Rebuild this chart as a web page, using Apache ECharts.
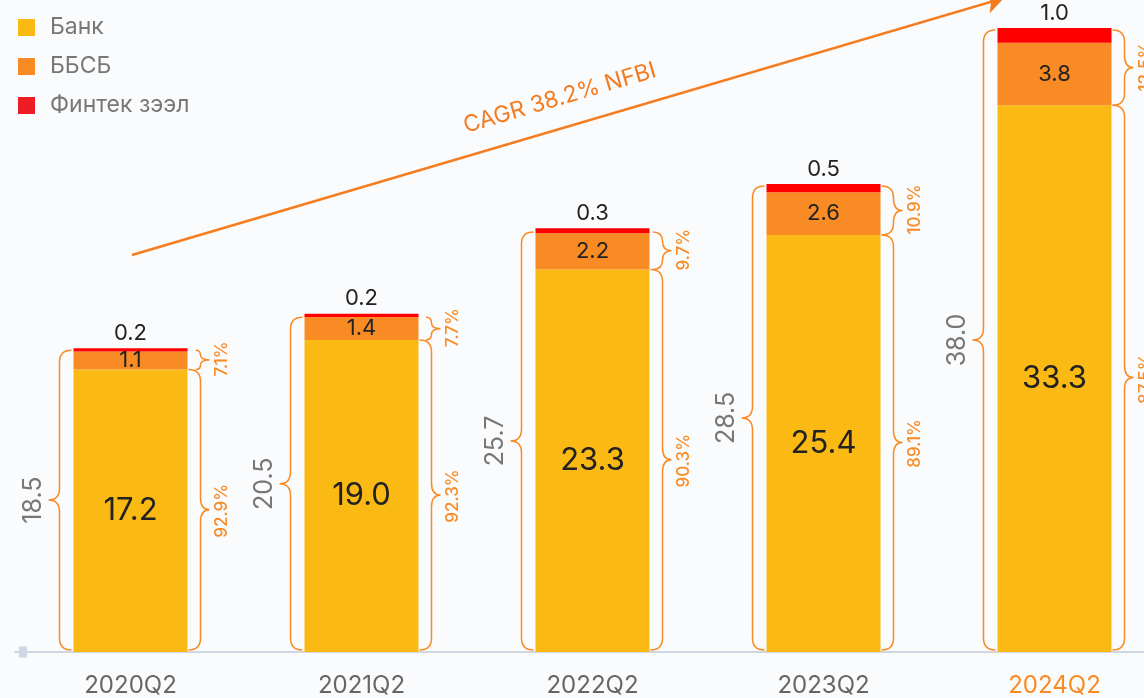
<!DOCTYPE html>
<html>
<head>
<meta charset="utf-8">
<script src="https://cdn.jsdelivr.net/npm/echarts@6/dist/echarts.min.js"></script>
<style>
  html, body { margin: 0; padding: 0; background: #fafbfd; overflow: hidden; }
  /* the picture crops the last column, so the chart runs past the right edge */
  #chart { width: 1170px; height: 698px; }
</style>
</head>
<body>
<div id="chart"></div>
<script>
  // data
  var categories = ['2020Q2', '2021Q2', '2022Q2', '2023Q2', '2024Q2'];
  var bank = [17.2, 19.0, 23.3, 25.4, 33.3];
  var bbsb = [1.1, 1.4, 2.2, 2.6, 3.8];
  var fintech = [0.2, 0.2, 0.3, 0.5, 1.0];
  var totals = [18.5, 20.5, 25.7, 28.5, 38.0];
  var bankShare = ['92.9%', '92.3%', '90.3%', '89.1%', '87.5%'];
  var otherShare = ['7.1%', '7.7%', '9.7%', '10.9%', '12.5%'];

  var FONT = 'Inter, "Open Sans", sans-serif';
  var ORANGE = '#f98b25';
  var chart = echarts.init(document.getElementById('chart'));

  // curly brace along a vertical span, d = -1 tip to the left, +1 tip to the right
  function brace(x0, yt, yb, d, t) {
    var span = yb - yt;
    var r = Math.min(12, span / 4);
    var ym = (yt + yb) / 2;
    var ex = x0 - d * r;
    return 'M' + ex + ' ' + yt +
      ' Q' + x0 + ' ' + yt + ' ' + x0 + ' ' + (yt + r) +
      ' L' + x0 + ' ' + (ym - r) +
      ' Q' + x0 + ' ' + ym + ' ' + (x0 + d * t) + ' ' + ym +
      ' Q' + x0 + ' ' + ym + ' ' + x0 + ' ' + (ym + r) +
      ' L' + x0 + ' ' + (yb - r) +
      ' Q' + x0 + ' ' + yb + ' ' + ex + ' ' + yb;
  }

  function renderBraces(params, api) {
    var i = params.dataIndex;
    var base = api.coord([api.value(0), 0]);
    var pBank = api.coord([api.value(0), api.value(1)]);
    var pTop = api.coord([api.value(0), api.value(2)]);
    var cx = base[0];
    var lx = cx - 71, rx = cx + 70;
    var lineStyle = { stroke: ORANGE, lineWidth: 1.5, fill: 'none' };
    return {
      type: 'group',
      children: [
        { type: 'path', shape: { pathData: brace(lx, pTop[1] + 2, base[1] - 2, -1, 11) }, style: lineStyle },
        { type: 'path', shape: { pathData: brace(rx, pTop[1] + 2, pBank[1], 1, 9) }, style: lineStyle },
        { type: 'path', shape: { pathData: brace(rx, pBank[1], base[1] - 2, 1, 9) }, style: lineStyle },
        {
          type: 'text', x: cx - 97, y: (pTop[1] + base[1]) / 2, rotation: Math.PI / 2,
          style: { text: totals[i].toFixed(1), fill: '#777', font: '25px ' + FONT, align: 'center', verticalAlign: 'middle' }
        },
        {
          type: 'text', x: cx + 91, y: (pTop[1] + pBank[1]) / 2, rotation: Math.PI / 2,
          style: { text: otherShare[i], fill: ORANGE, font: '500 17px ' + FONT, align: 'center', verticalAlign: 'middle' }
        },
        {
          type: 'text', x: cx + 91, y: (pBank[1] + base[1]) / 2, rotation: Math.PI / 2,
          style: { text: bankShare[i], fill: ORANGE, font: '500 17px ' + FONT, align: 'center', verticalAlign: 'middle' }
        }
      ]
    };
  }

  var option = {
    backgroundColor: '#fafbfd',
    textStyle: { fontFamily: FONT },
    legend: {
      orient: 'vertical',
      left: 13,
      top: 11,
      icon: 'rect',
      itemWidth: 17,
      itemHeight: 17,
      itemGap: 16,
      data: [
        { name: 'Банк', itemStyle: { color: '#fbb913' } },
        { name: 'ББСБ', itemStyle: { color: '#f98b25' } },
        { name: 'Финтек зээл', itemStyle: { color: '#ee1c25' } }
      ],
      textStyle: { color: '#777', fontSize: 23, fontFamily: FONT, padding: [0, 0, 0, 10] }
    },
    grid: { left: 15, right: 0, top: 28, bottom: 43 },
    xAxis: {
      type: 'category',
      data: categories,
      axisTick: { show: false },
      axisLine: {
        lineStyle: { color: '#d0d6e2', width: 2 },
        symbol: ['rect', 'none'],
        symbolSize: [11, 8],
        symbolOffset: [8, 0]
      },
      axisLabel: {
        margin: 22,
        fontSize: 24,
        color: '#666',
        fontFamily: FONT,
        formatter: function (v, idx) { return idx === 4 ? '{hl|' + v + '}' : v; },
        rich: { hl: { color: ORANGE, fontSize: 24, fontFamily: FONT } }
      }
    },
    yAxis: { type: 'value', min: 0, max: 38, show: false },
    series: [
      {
        name: 'Банк', type: 'bar', stack: 'a', barWidth: 114,
        itemStyle: { color: '#fbb913' },
        label: { show: true, position: 'inside', color: '#222', fontSize: 31, fontFamily: FONT,
          formatter: function (p) { return p.value.toFixed(1); } },
        data: bank
      },
      {
        name: 'ББСБ', type: 'bar', stack: 'a', barWidth: 114,
        itemStyle: { color: '#f98b25' },
        label: { show: true, position: 'inside', color: '#222', fontSize: 22, fontFamily: FONT,
          formatter: function (p) { return p.value.toFixed(1); } },
        data: bbsb,
        markLine: {
          silent: true,
          symbol: ['none', 'arrow'],
          symbolSize: [16, 18],
          lineStyle: { color: '#f57c1f', width: 2.5, type: 'solid' },
          label: { show: true, position: 'middle', formatter: 'CAGR 38.2% NFBI', color: '#f47b20',
            fontSize: 23, fontFamily: FONT, distance: 18 },
          data: [[{ x: 132, y: 255 }, { x: 1004, y: -2 }]]
        }
      },
      {
        name: 'Финтек зээл', type: 'bar', stack: 'a', barWidth: 114,
        itemStyle: { color: '#ff0000' },
        label: { show: true, position: 'top', distance: 4, color: '#222', fontSize: 22, fontFamily: FONT,
          formatter: function (p) { return p.value.toFixed(1); } },
        data: fintech
      },
      {
        name: 'braces', type: 'custom', z: 5,
        renderItem: renderBraces,
        data: categories.map(function (c, i) { return [i, bank[i], totals[i]]; })
      }
    ]
  };
  chart.setOption(option);
</script>
</body>
</html>
